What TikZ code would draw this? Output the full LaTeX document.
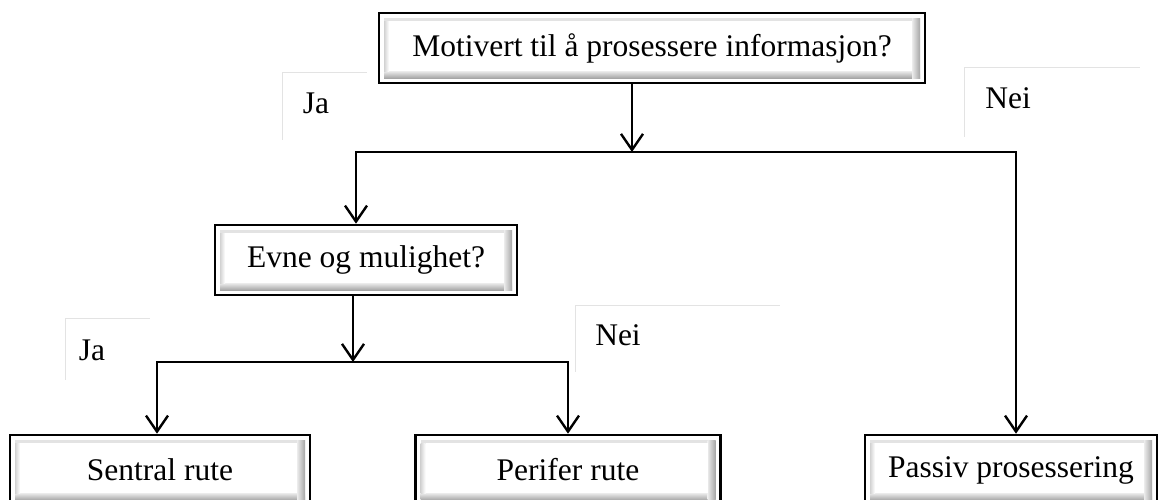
\documentclass[tikz,border=0pt]{standalone}
\usepackage{fontspec}
\setmainfont{Liberation Serif}
\usetikzlibrary{arrows.meta}
\begin{document}
\begin{tikzpicture}[x=1pt,y=1pt,
  txt/.style={font=\fontsize{31.5}{36}\selectfont},
  btn/.style={draw=black, line width=2.6pt, fill=white, inner sep=0pt, txt,
    path picture={
      \coordinate (bsw) at (path picture bounding box.south west);
      \coordinate (bne) at (path picture bounding box.north east);
      \fill[gray!22] ([xshift=5pt,yshift=5pt]bsw) rectangle ([xshift=-5pt,yshift=-5pt]bne);
      \shade[bottom color=gray!70, top color=gray!15] ([xshift=5pt,yshift=5pt]bsw) rectangle ([xshift=-5pt,yshift=12pt]bsw -| bne);
      \shade[left color=gray!15, right color=gray!70] ([xshift=-13pt,yshift=5pt]bsw -| bne) rectangle ([xshift=-5pt,yshift=-5pt]bne);
      \shade[left color=gray!35, right color=white] ([xshift=5pt,yshift=12pt]bsw) rectangle ([xshift=10pt,yshift=-8pt]bsw |- bne);
      \fill[white] ([xshift=10pt,yshift=12pt]bsw) rectangle ([xshift=-13pt,yshift=-8pt]bne);
    }},
  conn/.style={line width=2.4pt, line cap=rect},
  arr/.style={conn, -{Straight Barb[length=16pt,width=22pt]}},
  frame/.style={draw=gray!22, line width=1pt},
  lab/.style={txt, inner sep=0pt, anchor=base}
]
\useasboundingbox (0,0) rectangle (1159,-499);

% boxes
\node[btn, minimum width=546pt, minimum height=70pt] (top) at (652,-48) {Motivert til å prosessere informasjon?};
\node[btn, minimum width=302pt, minimum height=70pt] (evne) at (366,-260) {Evne og mulighet?};
\node[btn, minimum width=300pt, minimum height=70pt] (sentral) at (160,-470) {Sentral rute};
\node[btn, minimum width=305pt, minimum height=70pt] (perifer) at (568,-470) {Perifer rute};
\node[btn, minimum width=292pt, minimum height=70pt] (passiv) at (1011,-470) {Passiv prosessering};

% labels
\draw[frame] (282,-140) -- (282,-72) -- (367,-72);
\node[lab] (ja1) at (316,-113) {Ja};
\draw[frame] (964,-137) -- (964,-67) -- (1140,-67);
\node[lab] (nei1) at (1008,-108) {Nei};
\draw[frame] (65,-380) -- (65,-318) -- (150,-318);
\node[lab] (ja2) at (92,-360) {Ja};
\draw[frame] (575,-372) -- (575,-305) -- (780,-305);
\node[lab] (nei2) at (618,-345) {Nei};

% connectors
\coordinate (j1) at (632,-152);
\coordinate (l1) at (356,-152);
\coordinate (r1) at (1016,-152);
\draw[arr] (top.south -| j1) -- (j1);
\draw[conn] (l1) -- (r1);
\draw[arr] (l1) -- (l1 |- evne.north);
\draw[arr] (r1) -- (r1 |- passiv.north);

\coordinate (j2) at (353,-362);
\coordinate (l2) at (157,-362);
\coordinate (r2) at (568,-362);
\draw[arr] (evne.south -| j2) -- (j2);
\draw[conn] (l2) -- (r2);
\draw[arr] (l2) -- (l2 |- sentral.north);
\draw[arr] (r2) -- (r2 |- perifer.north);
\end{tikzpicture}
\end{document}
